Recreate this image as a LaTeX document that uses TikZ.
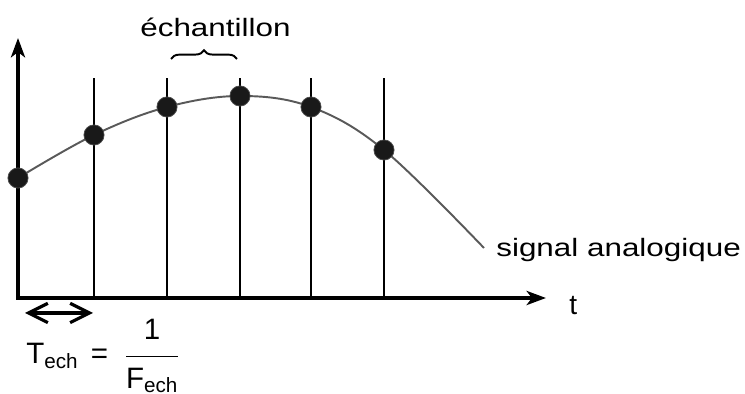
\documentclass[tikz,border=0pt]{standalone}
\usepackage{amsmath}
\usepackage{fontspec}
\setmainfont{Liberation Sans}
\newfontfamily\etire{Liberation Sans}[FakeStretch=1.25]
\usetikzlibrary{arrows.meta,positioning,decorations.pathreplacing}

\begin{document}
\begin{tikzpicture}[
  x=0.02cm,y=-0.02cm,
  font=\fontsize{16}{19}\selectfont,
  axe/.style={line width=2pt,{Stealth[length=11pt,width=8pt,inset=3pt]}-{Stealth[length=11pt,width=8pt,inset=3pt]}},
  tige/.style={line width=1.6pt},
  courbe/.style={line width=1.1pt,black!65},
  ech/.style={circle,fill=black!90,draw=black!70,line width=0.4pt,inner sep=0pt,minimum size=11.5pt},
  periode/.style={line width=1.8pt,{Straight Barb[length=11pt,width=11pt]}-{Straight Barb[length=11pt,width=11pt]}},
  etiq/.style={font=\etire\fontsize{14.3}{17}\selectfont,inner sep=0pt},
  accol/.style={decorate,decoration={brace,amplitude=5pt},line width=1.1pt}
]
\useasboundingbox (0,0) rectangle (745,394);

% ---- instants d'echantillonnage ----
\foreach \i/\x/\y in {0/18/178,1/94/135,2/167/107,3/240/96,4/311/107,5/384/150}{
  \coordinate (p\i) at (\x,\y);
  \coordinate (b\i) at (\x,298);
  \coordinate (h\i) at (\x,78);
}
\coordinate (O) at (18,298);
\coordinate (ymax) at (18,38);
\coordinate (xmax) at (546,298);
\coordinate (fin) at (484,248);

% ---- axes et tiges ----
\draw[axe] (ymax) -- (O) -- (xmax);
\foreach \i in {1,...,5}
  \draw[tige] (b\i) -- (h\i);

% ---- signal et echantillons ----
\draw[courbe] plot[smooth,tension=0.6] coordinates {(p0) (p1) (p2) (p3) (p4) (p5) (fin)};
\foreach \i in {0,...,5}
  \node[ech] (s\i) at (p\i) {};

% ---- periode ----
\coordinate (pg) at (25,313);
\coordinate (pd) at (93,313);
\draw[periode] (pg) -- (pd);

% ---- accolade ----
\coordinate (ag) at (171,59);
\coordinate (ad) at (237,59);
\draw[accol] (ag) -- (ad);

% ---- textes ----
\node[etiq,anchor=base west] (nech) at (140,37) {échantillon};
\node[etiq,anchor=base west] (nsig) at (496,257) {signal analogique};
\node[anchor=base west,inner sep=0pt] (nt) at (569,315) {t};
\node[anchor=base west,inner sep=0pt,font=\fontsize{16.8}{20}\selectfont] (form) at (26,364)
  {$\text{T}_{\text{ech}}\hspace{7pt}\text{=}\hspace{9pt}
    \dfrac{\raisebox{2pt}{\text{1}}}{\raisebox{-2pt}{$\text{F}_{\text{ech}}$}}$};
\end{tikzpicture}
\end{document}
